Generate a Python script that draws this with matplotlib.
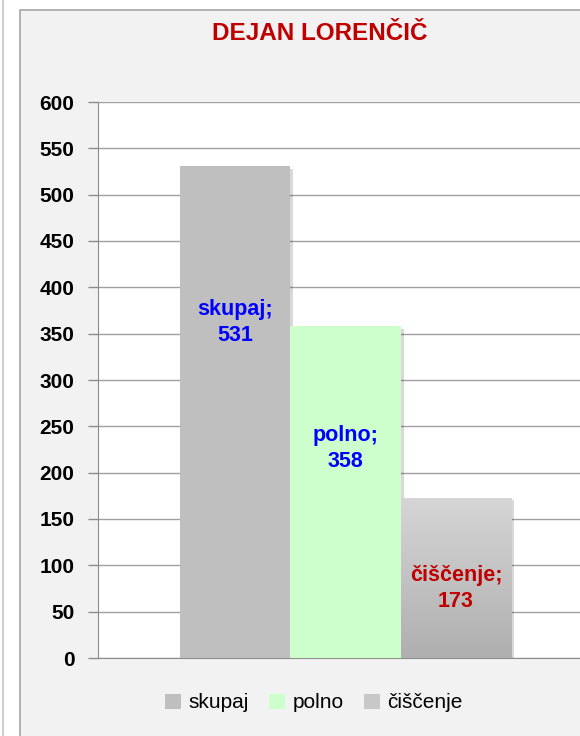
import matplotlib
matplotlib.use("Agg")
import matplotlib.pyplot as plt
from matplotlib import font_manager
from matplotlib.patches import Rectangle, Patch
from matplotlib.colors import LinearSegmentedColormap
import matplotlib.patheffects as pe
import numpy as np

title = "DEJAN LORENČIČ"
categories = ["skupaj", "polno", "čiščenje"]
values = [531, 358, 173]
label_pos = [362, 226, 75]
yticks = list(range(0, 601, 50))

names = {f.name for f in font_manager.fontManager.ttflist}
fam = "Liberation Sans Narrow" if "Liberation Sans Narrow" in names else "Liberation Sans"
plt.rcParams['font.family'] = [fam, 'DejaVu Sans']

W, H = 580, 736
fig = plt.figure(figsize=(W / 100, H / 100), dpi=100)
fig.patch.set_facecolor("white")

# chart panel
panel = Rectangle((20 / W, -0.05), 1.2, 1 - 10 / H + 0.05, transform=fig.transFigure,
                  facecolor="#f2f2f2", edgecolor="#a6a6a6", linewidth=1.2, zorder=-5)
fig.add_artist(panel)
fig.add_artist(plt.Line2D([2.5 / W, 2.5 / W], [0, 1], transform=fig.transFigure,
                          color="#d0d0d0", lw=1.5, zorder=-5))

left, right = 98 / W, 593 / W
bottom, top = 1 - 658 / H, 1 - 102 / H
ax = fig.add_axes([left, bottom, right - left, top - bottom])
ax.set_zorder(2)
ax.set_facecolor("white")

x = np.arange(len(categories)) - 1.0
colors = ["#bfbfbf", "#ccffcc", "#c8c8c8"]
shadow = [pe.SimplePatchShadow(offset=(2, -2), shadow_rgbFace="#000000", alpha=0.15), pe.Normal()]
bars = ax.bar(x, values, width=1.0, color=colors, zorder=3, linewidth=0)
for b in bars:
    b.set_path_effects(shadow)

# gradient on third bar
cmap = LinearSegmentedColormap.from_list("g", ["#afafaf", "#d6d6d6"])
grad = np.linspace(0, 1, 256).reshape(-1, 1)
b3 = bars[2]
im = ax.imshow(grad, cmap=cmap, origin="lower", aspect="auto", zorder=4,
               extent=[b3.get_x(), b3.get_x() + b3.get_width(), 0, values[2]])
im.set_clip_path(b3)

ax.set_xlim(-2.24, 2.24)
ax.set_ylim(0, 600)
ax.set_yticks(yticks)
ax.set_yticklabels([str(t) for t in yticks], fontsize=15, fontweight="bold")
ax.set_xticks([])
ax.tick_params(axis="y", length=7, color="#8c8c8c", pad=10, width=1)
ax.yaxis.grid(True, color="#a0a0a0", linewidth=1.0, zorder=1)
ax.set_axisbelow(True)
for s in ["top", "right"]:
    ax.spines[s].set_visible(False)
ax.spines["left"].set_color("#8c8c8c")
ax.spines["bottom"].set_color("#8c8c8c")

label_colors = ["#0000ff", "#0000ff", "#c00000"]
for xi, cat, v, lp, c in zip(x, categories, values, label_pos, label_colors):
    ax.text(xi, lp, f"{cat};\n{v}", ha="center", va="center", color=c, fontsize=15.5,
            fontweight="bold", linespacing=1.35, zorder=6)

fig.text(320 / W, 1 - 33 / H, title, ha="center", va="center", color="#c00000",
         fontsize=17.5, fontweight="bold")

handles = [Patch(facecolor=c, edgecolor="none") for c in colors]
fig.legend(handles, categories, loc="center", bbox_to_anchor=(314 / W, 1 - 703 / H), ncol=3,
           frameon=False, fontsize=15, handlelength=0.75, handleheight=0.75, handletextpad=0.35,
           columnspacing=1.0)

fig.savefig("out.png", dpi=100)
